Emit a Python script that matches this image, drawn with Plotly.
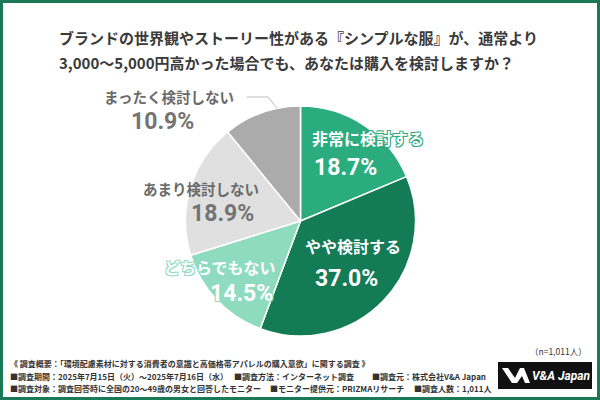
import plotly.graph_objects as go

# ---- data ----
categories = ["非常に検討する", "やや検討する", "どちらでもない", "あまり検討しない", "まったく検討しない"]
values = [18.7, 37.0, 14.5, 18.9, 10.9]
title_lines = [
    "ブランドの世界観やストーリー性がある『シンプルな服』が、通常より",
    "3,000～5,000円高かった場合でも、あなたは購入を検討しますか？",
]
sample_note = "（n=1,011人）"
footer_title = "《 調査概要：「環境配慮素材に対する消費者の意識と高価格帯アパレルの購入意欲」に関する調査 》"
footer_items = [
    "■調査期間：2025年7月15日（火）～2025年7月16日（水）",
    "■調査方法：インターネット調査",
    "■調査元：株式会社V&A Japan",
    "■調査対象：調査回答時に全国の20～49歳の男女と回答したモニター",
    "■モニター提供元：PRIZMAリサーチ",
    "■調査人数：1,011人",
]
logo_text = "V&A Japan"

# ---- styles / layout ----
W, H = 600, 400
colors = ["#2bac7f", "#137b56", "#8fdbbf", "#e0e0e0", "#ababab"]
label_pos = [(368, 138), (353, 246), (220, 267), (201, 188), (169, 97)]
pct_pos = [(345, 168), (346, 278), (241, 293), (222, 213), (162, 122)]
label_size = [16, 16, 16, 14.5, 14.5]
footer_pos = [(8, 376), (232, 376), (370, 376), (8, 388), (268, 388), (412, 388)]

def X(px):
    return px / W

def Y(py):
    return 1 - py / H

JP = "Noto Sans CJK JP"
NUM = "Roboto, Noto Sans CJK JP"

fig = go.Figure(go.Pie(
    labels=categories,
    values=values,
    sort=False,
    direction="clockwise",
    rotation=0,
    marker=dict(colors=colors, line=dict(color="white", width=1.5)),
    textinfo="none",
    hoverinfo="skip",
    showlegend=False,
    domain=dict(x=[X(185), X(416)], y=[Y(336), Y(106)]),
))

ann = []
for i, t in enumerate(title_lines):
    ann.append(dict(x=X(57), y=Y(37 + 25 * i), xref="paper", yref="paper",
                    xanchor="left", yanchor="middle", showarrow=False, text=t,
                    font=dict(family=JP, size=15, color="#3a3a3a", weight="bold")))

for i, (c, v) in enumerate(zip(categories, values)):
    if i < 3:
        col = "white"
        sc = colors[i]
        shadow = f"-1px -1px 0 {sc}, 1px -1px 0 {sc}, -1px 1px 0 {sc}, 1px 1px 0 {sc}"
    else:
        col = "#6a6a6a"
        shadow = "none"
    lx, ly = label_pos[i]
    px_, py_ = pct_pos[i]
    ann.append(dict(x=X(lx), y=Y(ly), xref="paper", yref="paper", xanchor="center",
                    yanchor="middle", showarrow=False, text=c,
                    font=dict(family=JP, size=label_size[i], color=col, weight="bold", shadow=shadow)))
    ann.append(dict(x=X(px_), y=Y(py_), xref="paper", yref="paper", xanchor="center",
                    yanchor="middle", showarrow=False, text=f"{v:.1f}%",
                    font=dict(family=NUM, size=23, color=col if i < 3 else "#747474",
                              weight="bold", shadow=shadow)))

ann.append(dict(x=X(589), y=Y(351), xref="paper", yref="paper", xanchor="right",
                yanchor="middle", showarrow=False, text=sample_note,
                font=dict(family=JP, size=8.5, color="#333333")))
ann.append(dict(x=X(8), y=Y(363), xref="paper", yref="paper", xanchor="left",
                yanchor="middle", showarrow=False, text=footer_title,
                font=dict(family=JP, size=8, color="#333333", weight="bold")))
for t, (fx, fy) in zip(footer_items, footer_pos):
    ann.append(dict(x=X(fx), y=Y(fy), xref="paper", yref="paper", xanchor="left",
                    yanchor="middle", showarrow=False, text=t,
                    font=dict(family=JP, size=8, color="#333333", weight="bold")))
ann.append(dict(x=X(561), y=Y(376), xref="paper", yref="paper", xanchor="center",
                yanchor="middle", showarrow=False, text=logo_text,
                font=dict(family="Roboto", size=12, color="white", weight="bold", style="italic")))

def pathp(pts):
    return "M " + " L ".join(f"{X(a):.5f},{Y(b):.5f}" for a, b in pts) + " Z"

shapes = [
    # frame
    dict(type="rect", xref="paper", yref="paper", x0=X(1.5), x1=X(W - 1.5), y0=Y(H - 1.5), y1=Y(1.5),
         line=dict(color="#1a7a57", width=3), fillcolor="rgba(0,0,0,0)"),
    # leader line
    dict(type="path", xref="paper", yref="paper",
         path=f"M {X(247)},{Y(97)} L {X(268)},{Y(97)} L {X(277)},{Y(108)}",
         line=dict(color="#bdbdbd", width=1)),
    # logo box
    dict(type="rect", xref="paper", yref="paper", x0=X(498), x1=X(592), y0=Y(389), y1=Y(362),
         line=dict(width=0), fillcolor="#111111"),
    dict(type="path", xref="paper", yref="paper",
         path=pathp([(502, 368), (508, 368), (515, 378), (520, 368), (524, 368), (530, 383),
                     (525, 383), (522, 376), (517, 383), (512, 383)]),
         line=dict(width=0), fillcolor="white"),
]

fig.update_layout(
    width=W, height=H,
    margin=dict(l=0, r=0, t=0, b=0),
    paper_bgcolor="white", plot_bgcolor="white",
    annotations=ann, shapes=shapes,
)

fig.write_html("out.html", config={"displayModeBar": False},
               post_script="document.body.style.margin='0';document.body.style.overflow='hidden';")
